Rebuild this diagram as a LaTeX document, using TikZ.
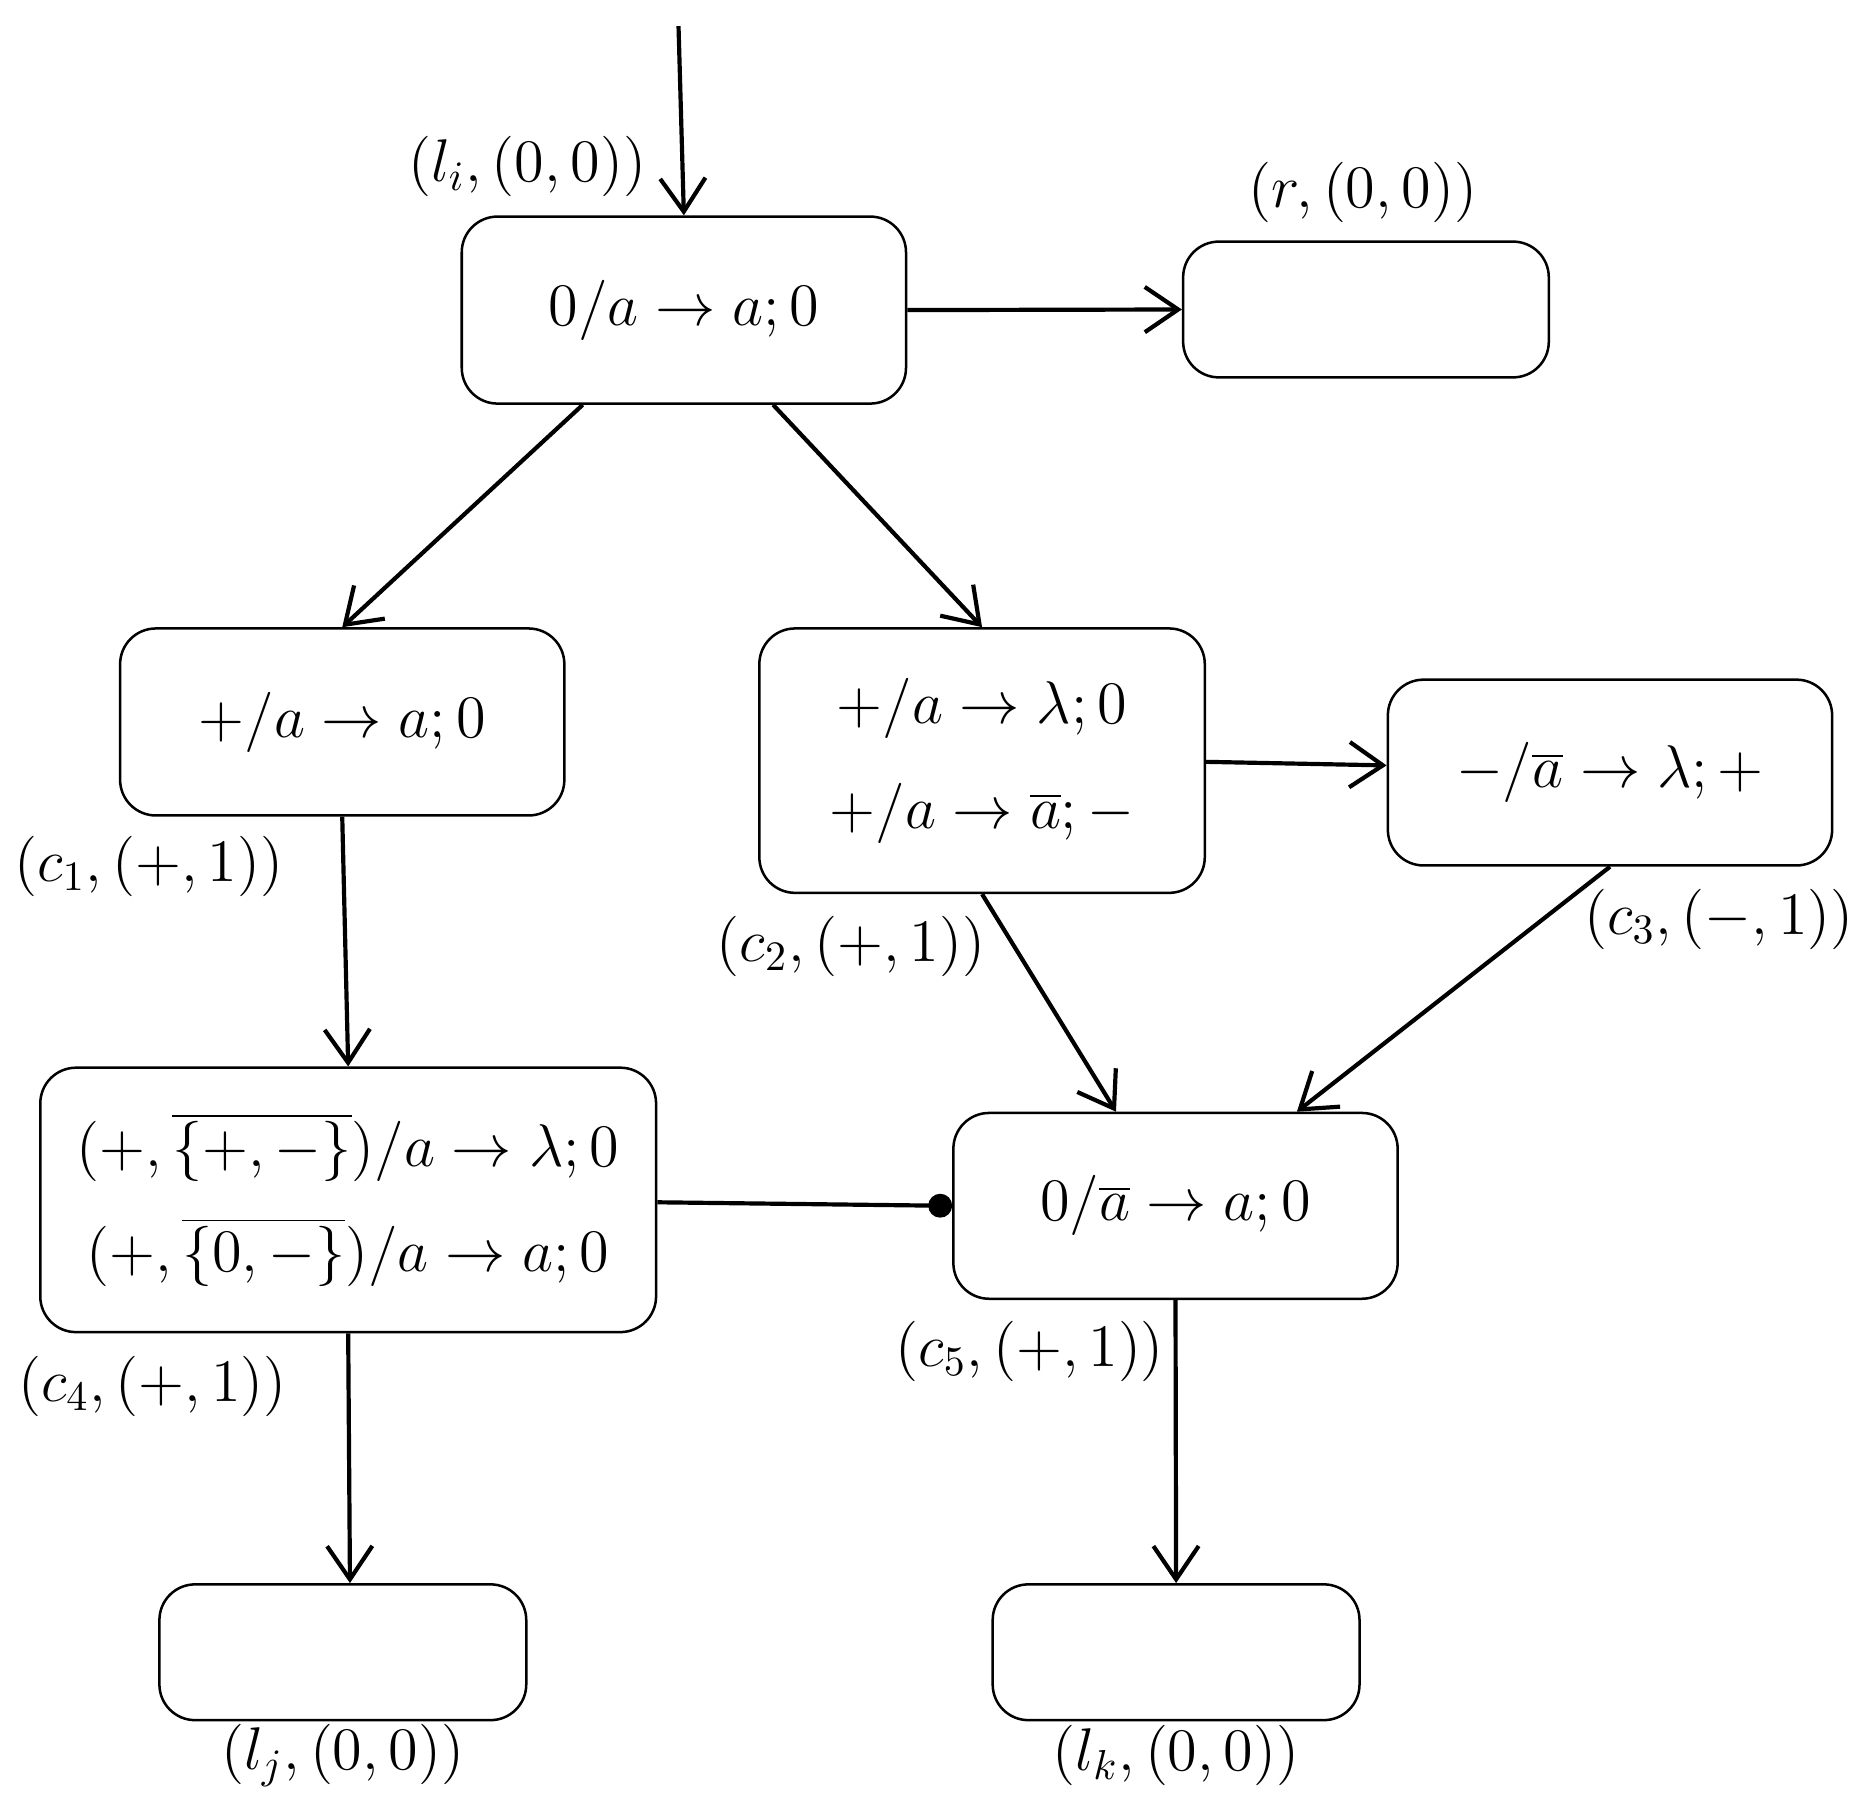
\documentclass[tikz,border=0pt]{standalone}
\usetikzlibrary{arrows.meta,calc}
\begin{document}
\begin{tikzpicture}[x=0.01cm,y=-0.01cm,
  box/.style={draw,rounded corners=0.3cm,line width=0.6pt,inner sep=0pt,align=center,font=\fontsize{14}{25}\selectfont},
  lab/.style={font=\fontsize{14}{17}\selectfont},
  arr/.style={line width=1pt,-{Straight Barb[length=0.28cm,width=0.38cm,line width=1pt]}}]
\useasboundingbox (0,0) rectangle (1560,1528);
\node[box,minimum width=3.73cm,minimum height=1.57cm] (A) at (574.5,260.5) {$0/a\rightarrow a;0$};
\node[box,minimum width=3.07cm,minimum height=1.14cm] (R) at (1147.5,260) {};
\node[box,minimum width=3.73cm,minimum height=1.57cm] (C1) at (287.5,606.5) {$+/a\rightarrow a;0$};
\node[box,minimum width=3.74cm,minimum height=2.22cm] (C2) at (825,639) {$+/a\rightarrow \lambda;0$\\$+/a\rightarrow \overline{a};-$};
\node[box,minimum width=3.73cm,minimum height=1.56cm] (C3) at (1352.5,649) {$-/\overline{a}\rightarrow \lambda;+$};
\node[box,minimum width=5.17cm,minimum height=2.22cm] (C4) at (292.5,1008) {$(+,\overline{\{+,-\}})/a\rightarrow \lambda;0$\\$(+,\overline{\{0,-\}})/a\rightarrow a;0$};
\node[box,minimum width=3.73cm,minimum height=1.56cm] (C5) at (987.5,1013) {$0/\overline{a}\rightarrow a;0$};
\node[box,minimum width=3.08cm,minimum height=1.14cm] (LJ) at (288,1388) {};
\node[box,minimum width=3.08cm,minimum height=1.14cm] (LK) at (988,1388) {};
\node[lab] (lA) at (443,140) {$(l_i,(0,0))$};
\node[lab] (lR) at (1145,162) {$(r,(0,0))$};
\node[lab] (l1) at (125,728) {$(c_1,(+,1))$};
\node[lab] (l2) at (715,795) {$(c_2,(+,1))$};
\node[lab] (l3) at (1444,772) {$(c_3,(-,1))$};
\node[lab] (l4) at (128,1165) {$(c_4,(+,1))$};
\node[lab] (l5) at (865,1135) {$(c_5,(+,1))$};
\node[lab] (lj) at (288,1475) {$(l_j,(0,0))$};
\node[lab] (lk) at (988,1475) {$(l_k,(0,0))$};
\coordinate (start) at (570,22);
\draw[arr] (start) -- (A.north);
\draw[arr] (A.east) -- (R.west);
\draw[arr] ($(A.south)+(-85,0)$) -- ($(C1.north)+(0,0)$);
\draw[arr] ($(A.south)+(75,0)$) -- ($(C2.north)+(0,0)$);
\draw[arr] (C1.south) -- ($(C4.north)+(0,0)$);
\draw[arr] ($(C2.east)+(0,1)$) -- ($(C3.west)+(0,-6)$);
\draw[arr] ($(C2.south)+(0,0)$) -- ($(C5.north)+(-50,0)$);
\draw[arr] ($(C3.south)+(0,0)$) -- ($(C5.north)+(102,0)$);
\draw[line width=1pt,-{Circle[length=0.2cm]}] ($(C4.east)+(0,2)$) -- (C5.west);
\draw[arr] (C4.south) -- ($(LJ.north)+(6,0)$);
\draw[arr] ($(C5.south)+(0,0)$) -- (LK.north);
\end{tikzpicture}
\end{document}
